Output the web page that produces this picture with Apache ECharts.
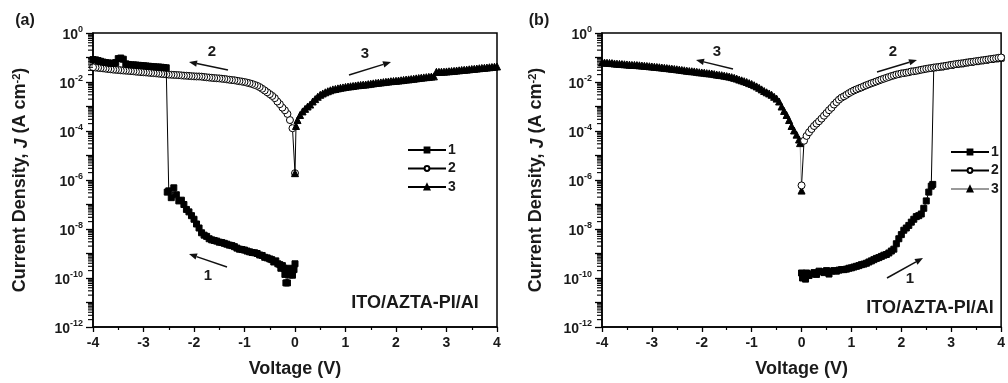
<!DOCTYPE html>
<html><head><meta charset="utf-8">
<script src="https://cdn.jsdelivr.net/npm/echarts@6/dist/echarts.min.js"></script>
<style>html,body{margin:0;padding:0;background:#fff}#c{width:1008px;height:383px}</style>
</head><body><div id="c"></div>
<script>
// ---------- data (Voltage V, current density J in A cm^-2) ----------
// panel (a), sweep 1: 0 -> -4 V (squares)
const a1V = [0,-0.02,-0.05,-0.08,-0.1,-0.12,-0.15,-0.18,-0.2,-0.22,-0.25,-0.28,-0.3,-0.34,-0.38,-0.42,-0.46,-0.5,-0.55,-0.6,-0.65,-0.7,-0.75,-0.8,-0.85,-0.9,-0.95,-1.0,-1.05,-1.1,-1.15,-1.2,-1.25,-1.3,-1.35,-1.4,-1.45,-1.5,-1.55,-1.6,-1.65,-1.7,-1.75,-1.8,-1.85,-1.9,-1.95,-2.0,-2.05,-2.1,-2.15,-2.2,-2.25,-2.3,-2.35,-2.4,-2.45,-2.5,-2.53,-2.55,-2.6,-2.65,-2.7,-2.75,-2.8,-2.85,-2.9,-2.95,-3.0,-3.05,-3.1,-3.15,-3.2,-3.25,-3.3,-3.35,-3.4,-3.45,-3.5,-3.55,-3.6,-3.65,-3.7,-3.75,-3.8,-3.85,-3.9,-3.95,-4.0];
const a1J = [3.8e-10,2.2e-10,1.3e-10,2.0e-10,1.35e-10,2.5e-10,6.3e-11,6.3e-11,1.4e-10,2.5e-10,3.2e-10,2.5e-10,3.5e-10,3.8e-10,5e-10,4.5e-10,5.6e-10,6e-10,6.6e-10,7e-10,8.3e-10,8.7e-10,1e-9,1.07e-9,1.1e-9,1.17e-9,1.26e-9,1.38e-9,1.45e-9,1.5e-9,1.66e-9,1.9e-9,2.1e-9,2.2e-9,2.4e-9,2.6e-9,2.8e-9,2.9e-9,3.2e-9,3.4e-9,3.6e-9,4e-9,5e-9,5.6e-9,7e-9,1.1e-8,1.6e-8,2.5e-8,3.5e-8,5e-8,6.3e-8,1e-7,1.5e-7,1.4e-7,2.5e-7,4.8e-7,1.9e-7,3.6e-7,3.2e-7,0.038,0.039,0.04,0.041,0.041,0.042,0.043,0.044,0.045,0.046,0.047,0.048,0.049,0.05,0.05,0.052,0.055,0.085,0.095,0.09,0.062,0.058,0.058,0.06,0.062,0.065,0.07,0.075,0.08,0.082];
// panel (a), sweep 2: 0 -> -4 V (open circles)
const a2V = [0,-0.05,-0.1,-0.15,-0.2,-0.25,-0.3,-0.35,-0.4,-0.45,-0.5,-0.55,-0.6,-0.65,-0.7,-0.75,-0.8,-0.85,-0.9,-0.95,-1.0,-1.05,-1.1,-1.15,-1.2,-1.25,-1.3,-1.35,-1.4,-1.45,-1.5,-1.55,-1.6,-1.65,-1.7,-1.75,-1.8,-1.85,-1.9,-1.95,-2.0,-2.05,-2.1,-2.15,-2.2,-2.25,-2.3,-2.35,-2.4,-2.45,-2.5,-2.55,-2.6,-2.65,-2.7,-2.75,-2.8,-2.85,-2.9,-2.95,-3.0,-3.05,-3.1,-3.15,-3.2,-3.25,-3.3,-3.35,-3.4,-3.45,-3.5,-3.55,-3.6,-3.65,-3.7,-3.75,-3.8,-3.85,-3.9,-3.95,-4.0];
const a2J = [1.9e-6,1.3e-4,2.8e-4,5e-4,7e-4,9e-4,1.25e-3,1.6e-3,2.2e-3,2.7e-3,3.2e-3,3.8e-3,4.5e-3,5.3e-3,6.2e-3,7.0e-3,7.6e-3,8.3e-3,8.9e-3,9.4e-3,1.0e-2,1.04e-2,1.08e-2,1.12e-2,1.18e-2,1.2e-2,1.24e-2,1.28e-2,1.33e-2,1.36e-2,1.4e-2,1.42e-2,1.45e-2,1.48e-2,1.52e-2,1.55e-2,1.6e-2,1.65e-2,1.68e-2,1.68e-2,1.7e-2,1.73e-2,1.77e-2,1.8e-2,1.82e-2,1.86e-2,1.9e-2,1.93e-2,1.95e-2,1.98e-2,2.0e-2,2.05e-2,2.1e-2,2.15e-2,2.2e-2,2.25e-2,2.3e-2,2.35e-2,2.4e-2,2.45e-2,2.5e-2,2.55e-2,2.6e-2,2.65e-2,2.75e-2,2.8e-2,2.85e-2,2.9e-2,2.95e-2,3.0e-2,3.1e-2,3.15e-2,3.2e-2,3.3e-2,3.4e-2,3.5e-2,3.6e-2,3.7e-2,3.8e-2,3.9e-2,4.0e-2];
// panel (a), sweep 3: 0 -> 4 V (triangles)
const a3V = [0,0.02,0.05,0.1,0.15,0.2,0.25,0.3,0.35,0.4,0.45,0.5,0.55,0.6,0.65,0.7,0.75,0.8,0.85,0.9,0.95,1.0,1.05,1.1,1.15,1.2,1.25,1.3,1.35,1.4,1.45,1.5,1.55,1.6,1.65,1.7,1.75,1.8,1.85,1.9,1.95,2.0,2.05,2.1,2.15,2.2,2.25,2.3,2.35,2.4,2.45,2.5,2.55,2.6,2.65,2.7,2.75,2.8,2.85,2.9,2.95,3.0,3.05,3.1,3.15,3.2,3.25,3.3,3.35,3.4,3.45,3.5,3.55,3.6,3.65,3.7,3.75,3.8,3.85,3.9,3.95,4.0];
const a3J = [1.9e-6,1.6e-4,2.8e-4,4.5e-4,6.3e-4,8e-4,1e-3,1.2e-3,1.6e-3,2.0e-3,2.5e-3,3.0e-3,3.4e-3,3.8e-3,4.2e-3,4.6e-3,5.0e-3,5.2e-3,5.5e-3,5.8e-3,6.0e-3,6.3e-3,6.5e-3,6.7e-3,6.9e-3,7.2e-3,7.4e-3,7.6e-3,7.8e-3,7.9e-3,8.2e-3,8.5e-3,8.8e-3,9.1e-3,9.4e-3,9.6e-3,9.9e-3,1.02e-2,1.05e-2,1.08e-2,1.1e-2,1.12e-2,1.15e-2,1.18e-2,1.22e-2,1.26e-2,1.28e-2,1.32e-2,1.36e-2,1.41e-2,1.45e-2,1.5e-2,1.54e-2,1.58e-2,1.62e-2,1.66e-2,1.7e-2,2.6e-2,2.6e-2,2.62e-2,2.65e-2,2.7e-2,2.75e-2,2.8e-2,2.85e-2,2.95e-2,3.0e-2,3.1e-2,3.15e-2,3.2e-2,3.3e-2,3.4e-2,3.45e-2,3.55e-2,3.65e-2,3.75e-2,3.8e-2,3.9e-2,4.0e-2,4.1e-2,4.2e-2,4.3e-2];
// panel (b), sweep 1: 0 -> 4 V (squares)
const b1V = [0,0.02,0.05,0.08,0.1,0.15,0.2,0.25,0.3,0.35,0.4,0.45,0.5,0.55,0.6,0.65,0.7,0.75,0.8,0.85,0.9,0.95,1.0,1.05,1.1,1.15,1.2,1.25,1.3,1.35,1.4,1.45,1.5,1.55,1.6,1.65,1.7,1.75,1.8,1.85,1.9,1.95,2.0,2.05,2.1,2.15,2.2,2.25,2.3,2.35,2.4,2.45,2.5,2.55,2.6,2.63,2.65,2.7,2.8,2.9,3.0,3.1,3.2,3.3,3.4,3.5,3.6,3.7,3.8,3.9,4.0];
const b1J = [1.6e-10,1e-10,1.4e-10,9e-11,1.6e-10,1.26e-10,1.45e-10,1.66e-10,1.4e-10,1.9e-10,1.8e-10,1.66e-10,2e-10,1.45e-10,1.9e-10,2e-10,1.9e-10,2.1e-10,2.2e-10,2.2e-10,2.3e-10,2.5e-10,2.6e-10,2.8e-10,3e-10,3.2e-10,3.5e-10,3.7e-10,4e-10,4.5e-10,5e-10,5.6e-10,6.3e-10,6.8e-10,7.6e-10,8.5e-10,9.1e-10,1.05e-9,1.26e-9,1.5e-9,2.5e-9,4e-9,5.9e-9,8.9e-9,1.1e-8,1.4e-8,1.9e-8,2.5e-8,3.2e-8,3.5e-8,4.1e-8,7e-8,1.4e-7,3.2e-7,5.6e-7,6.6e-7,0.038,0.039,0.041,0.045,0.048,0.052,0.055,0.06,0.064,0.068,0.073,0.078,0.083,0.088,0.094];
// panel (b), sweep 2: 0 -> 4 V (open circles)
const b2V = [0,0.05,0.1,0.15,0.2,0.25,0.3,0.35,0.4,0.45,0.5,0.55,0.6,0.65,0.7,0.75,0.8,0.85,0.9,0.95,1.0,1.05,1.1,1.15,1.2,1.25,1.3,1.35,1.4,1.45,1.5,1.55,1.6,1.65,1.7,1.75,1.8,1.85,1.9,1.95,2.0,2.05,2.1,2.15,2.2,2.25,2.3,2.35,2.4,2.45,2.5,2.55,2.6,2.65,2.7,2.75,2.8,2.85,2.9,2.95,3.0,3.05,3.1,3.15,3.2,3.25,3.3,3.35,3.4,3.45,3.5,3.55,3.6,3.65,3.7,3.75,3.8,3.85,3.9,3.95,4.0];
const b2J = [6e-7,4e-5,6.3e-5,8.9e-5,1.2e-4,1.6e-4,2.0e-4,2.5e-4,3.2e-4,4.2e-4,5.4e-4,7.1e-4,8.9e-4,1.2e-3,1.5e-3,1.9e-3,2.3e-3,2.6e-3,3.0e-3,3.5e-3,4.0e-3,4.5e-3,5.0e-3,5.5e-3,6.0e-3,6.7e-3,7.4e-3,8.1e-3,8.9e-3,9.6e-3,1.05e-2,1.15e-2,1.26e-2,1.36e-2,1.48e-2,1.6e-2,1.74e-2,1.86e-2,2.0e-2,2.1e-2,2.24e-2,2.3e-2,2.4e-2,2.5e-2,2.7e-2,2.75e-2,2.85e-2,3.0e-2,3.16e-2,3.3e-2,3.45e-2,3.6e-2,3.7e-2,3.9e-2,4.0e-2,4.1e-2,4.3e-2,4.4e-2,4.6e-2,4.8e-2,5.0e-2,5.2e-2,5.4e-2,5.6e-2,5.75e-2,5.9e-2,6.2e-2,6.4e-2,6.6e-2,6.8e-2,7.1e-2,7.3e-2,7.6e-2,7.8e-2,8.1e-2,8.4e-2,8.7e-2,9.0e-2,9.3e-2,9.7e-2,0.1];
// panel (b), sweep 3: 0 -> -4 V (triangles)
const b3V = [0,-0.03,-0.05,-0.1,-0.15,-0.2,-0.25,-0.3,-0.35,-0.4,-0.45,-0.5,-0.55,-0.6,-0.65,-0.7,-0.75,-0.8,-0.85,-0.9,-0.95,-1.0,-1.05,-1.1,-1.15,-1.2,-1.25,-1.3,-1.35,-1.4,-1.45,-1.5,-1.55,-1.6,-1.65,-1.7,-1.75,-1.8,-1.85,-1.9,-1.95,-2.0,-2.05,-2.1,-2.15,-2.2,-2.25,-2.3,-2.35,-2.4,-2.45,-2.5,-2.55,-2.6,-2.65,-2.7,-2.75,-2.8,-2.85,-2.9,-2.95,-3.0,-3.05,-3.1,-3.15,-3.2,-3.25,-3.3,-3.35,-3.4,-3.45,-3.5,-3.55,-3.6,-3.65,-3.7,-3.75,-3.8,-3.85,-3.9,-3.95,-4.0];
const b3J = [3.7e-7,3.2e-5,4.5e-5,7.1e-5,1.05e-4,1.6e-4,2.8e-4,4.5e-4,6.6e-4,1.0e-3,1.6e-3,2.1e-3,2.5e-3,3.0e-3,3.4e-3,3.8e-3,4.3e-3,5.0e-3,5.8e-3,6.6e-3,7.4e-3,8.3e-3,9.0e-3,1.0e-2,1.08e-2,1.17e-2,1.26e-2,1.38e-2,1.48e-2,1.58e-2,1.66e-2,1.74e-2,1.82e-2,1.9e-2,1.95e-2,2.0e-2,2.1e-2,2.2e-2,2.25e-2,2.3e-2,2.4e-2,2.45e-2,2.5e-2,2.6e-2,2.7e-2,2.75e-2,2.8e-2,2.9e-2,3.0e-2,3.1e-2,3.2e-2,3.3e-2,3.4e-2,3.5e-2,3.6e-2,3.7e-2,3.8e-2,3.9e-2,4.0e-2,4.1e-2,4.2e-2,4.3e-2,4.4e-2,4.5e-2,4.6e-2,4.7e-2,4.8e-2,4.9e-2,5.0e-2,5.0e-2,5.1e-2,5.2e-2,5.3e-2,5.4e-2,5.5e-2,5.6e-2,5.7e-2,5.9e-2,6.0e-2,6.1e-2,6.2e-2,6.3e-2];

const legendNames = ['1', '2', '3'];
const panelLabels = ['(a)', '(b)'];
const deviceLabel = 'ITO/AZTA-PI/Al';
const xTitle = 'Voltage (V)';

// log-axis minor tick values (2..9 x 10^e)
const yMinorTicks = [];
for (let e = -12; e < 0; e++) for (let k = 2; k <= 9; k++) yMinorTicks.push(k * Math.pow(10, e));

// ---------- styling ----------
const FONT = '"Liberation Sans", Arial, sans-serif';
const INK = '#1a1a1a';
const pair = (V, J) => V.map((v, i) => [v, J[i]]);

function yLabel(val) {
  const e = Math.round(Math.log10(val));
  if (e % 2 !== 0) return '';
  return '{b|10}{s|' + e + '}';
}
const yRich = {
  b: { fontSize: 14, fontWeight: 'bold', fontFamily: FONT, color: INK, verticalAlign: 'bottom', lineHeight: 18 },
  s: { fontSize: 9, fontWeight: 'bold', fontFamily: FONT, color: INK, verticalAlign: 'bottom', lineHeight: 18, padding: [0, 0, 8, 0] }
};

function xAxisCfg(gi) {
  return {
    type: 'value', gridIndex: gi, min: -4, max: 4, interval: 1,
    axisLine: { show: true, onZero: false, lineStyle: { color: '#000', width: 1.5 } },
    axisTick: { show: true, inside: false, length: 5, lineStyle: { color: '#000', width: 1.3 } },
    minorTick: { show: true, splitNumber: 2, length: 3, lineStyle: { color: '#000', width: 1.2 } },
    splitLine: { show: false }, minorSplitLine: { show: false },
    axisLabel: { margin: 9, fontSize: 14, fontWeight: 'bold', fontFamily: FONT, color: INK },
    name: xTitle, nameLocation: 'middle', nameGap: 33,
    nameTextStyle: { fontSize: 18, fontWeight: 'bold', fontFamily: FONT, color: INK }
  };
}
function yAxisCfg(gi, gap) {
  return {
    type: 'log', logBase: 10, gridIndex: gi, min: 1e-12, max: 1, interval: 1,
    axisLine: { show: true, onZero: false, lineStyle: { color: '#000', width: 1.5 } },
    axisTick: { show: true, inside: false, length: 7, lineStyle: { color: '#000', width: 1.3 } },
    minorTick: { show: false },
    splitLine: { show: false }, minorSplitLine: { show: false },
    axisLabel: { margin: 10, formatter: yLabel, rich: yRich },
    name: 'Current Density, {i|J} (A cm{s|-2})', nameLocation: 'middle', nameRotate: 90, nameGap: gap,
    nameTextStyle: {
      fontSize: 18, fontWeight: 'bold', fontFamily: FONT, color: INK,
      rich: {
        i: { fontSize: 18, fontWeight: 'bold', fontStyle: 'italic', fontFamily: FONT, color: INK, verticalAlign: 'bottom', lineHeight: 22 },
        s: { fontSize: 11, fontWeight: 'bold', fontFamily: FONT, color: INK, verticalAlign: 'bottom', lineHeight: 22, padding: [0, 0, 9, 0] }
      }
    }
  };
}

function mk(name, gi, V, J, symbol, size, fill, lineColor, z) {
  return {
    type: 'line', name: name, xAxisIndex: gi, yAxisIndex: gi, data: pair(V, J),
    symbol: symbol, symbolSize: size, showSymbol: true, showAllSymbol: true,
    lineStyle: { color: lineColor, width: 1 },
    itemStyle: { color: fill, borderColor: '#000', borderWidth: 1 },
    emphasis: { disabled: true }, animation: false, z: z, clip: true
  };
}
function minorTickSeries(gi) {
  return {
    type: 'custom', xAxisIndex: gi, yAxisIndex: gi, silent: true, clip: false, animation: false, z: 5,
    encode: { x: 0, y: 1 },
    data: yMinorTicks.map(v => [-4, v]),
    renderItem: (params, api) => {
      const p = api.coord([api.value(0), api.value(1)]);
      return { type: 'line', shape: { x1: p[0] - 5, y1: p[1], x2: p[0], y2: p[1] }, style: { stroke: '#000', lineWidth: 1.1 } };
    }
  };
}

function arrow(x1, y1, x2, y2) {
  const a = Math.atan2(y2 - y1, x2 - x1), L = 8, W = 3.2;
  const bx = x2 - L * Math.cos(a), by = y2 - L * Math.sin(a);
  return { type: 'group', children: [
    { type: 'line', shape: { x1: x1, y1: y1, x2: bx, y2: by }, style: { stroke: '#111', lineWidth: 1.5 } },
    { type: 'polygon', shape: { points: [[x2, y2], [bx - W * Math.sin(a), by + W * Math.cos(a)], [bx + W * Math.sin(a), by - W * Math.cos(a)]] }, style: { fill: '#111' } }
  ] };
}
function txt(s, x, y, size, align) {
  return { type: 'text', x: x, y: y, style: { text: s, font: 'bold ' + size + 'px ' + FONT, fill: INK, align: align || 'center', verticalAlign: 'middle' } };
}

const legendBase = {
  orient: 'vertical', itemWidth: 38, itemHeight: 6, itemGap: 4.5, selectedMode: false,
  formatter: n => n.slice(1),
  textStyle: { fontSize: 14, fontWeight: 'bold', fontFamily: FONT, color: INK, padding: [0, 0, 0, -3] }
};

const chart = echarts.init(document.getElementById('c'), null, { renderer: 'canvas' });
chart.setOption({
  animation: false,
  backgroundColor: '#fff',
  grid: [
    { left: 93, top: 33, width: 404, height: 298, show: true, borderColor: '#000', borderWidth: 1.5, backgroundColor: 'transparent' },
    { left: 602, top: 33, width: 404, height: 299, show: true, borderColor: '#000', borderWidth: 1.5, backgroundColor: 'transparent' }
  ],
  xAxis: [xAxisCfg(0), xAxisCfg(1)],
  yAxis: [yAxisCfg(0, 62), yAxisCfg(1, 55)],
  legend: [
    Object.assign({}, legendBase, { data: ['a' + legendNames[0], 'a' + legendNames[1], 'a' + legendNames[2]], left: 402, top: 138 }),
    Object.assign({}, legendBase, { data: ['b' + legendNames[0], 'b' + legendNames[1], 'b' + legendNames[2]], left: 945, top: 140 })
  ],
  series: [
    mk('a1', 0, a1V, a1J, 'rect', 6, '#000', '#000', 3),
    mk('a2', 0, a2V, a2J, 'circle', 7, '#fff', '#000', 2),
    mk('a3', 0, a3V, a3J, 'triangle', 7, '#000', '#000', 2),
    mk('b1', 1, b1V, b1J, 'rect', 6, '#000', '#000', 2),
    mk('b2', 1, b2V, b2J, 'circle', 7, '#fff', '#000', 3),
    mk('b3', 1, b3V, b3J, 'triangle', 7, '#000', '#999', 2),
    minorTickSeries(0), minorTickSeries(1)
  ],
  graphic: [
    txt(panelLabels[0], 25, 21, 16), txt(panelLabels[1], 539, 21, 16),
    txt(deviceLabel, 415, 303, 18), txt(deviceLabel, 930, 308, 18),
    arrow(228, 70, 189, 62), txt('2', 212, 52, 15),
    arrow(349, 75, 391, 62), txt('3', 365, 54, 15),
    arrow(227, 267, 189, 254), txt('1', 208, 276, 15),
    arrow(733, 69, 696, 60), txt('3', 717, 52, 15),
    arrow(877, 72, 917, 60), txt('2', 893, 52, 15),
    arrow(887, 278, 923, 258), txt('1', 910, 279, 15)
  ]
});
</script></body></html>
